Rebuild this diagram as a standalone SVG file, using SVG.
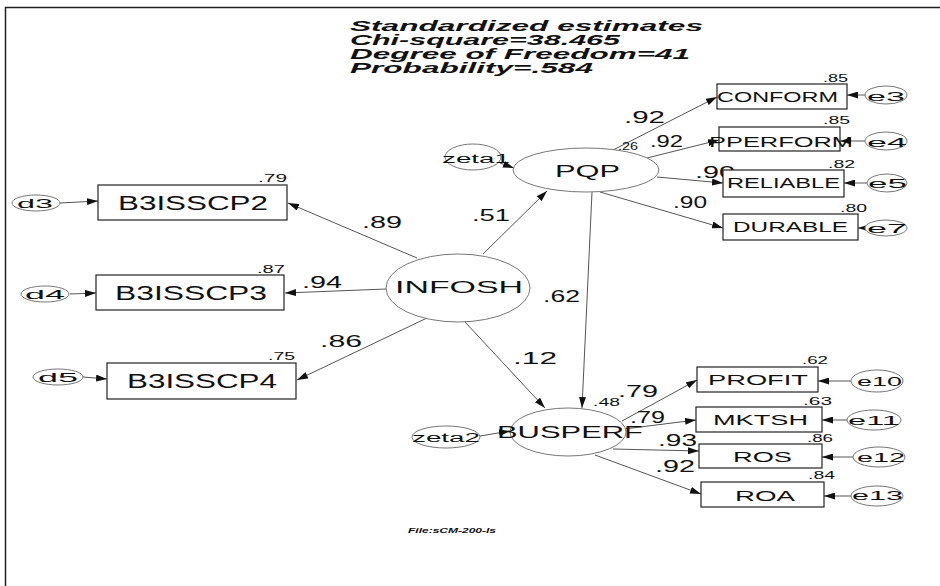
<svg xmlns="http://www.w3.org/2000/svg" width="940" height="586" viewBox="0 0 940 586">
<defs>
<marker id="ah" markerWidth="11" markerHeight="7" refX="11" refY="3.5" orient="auto" markerUnits="userSpaceOnUse"><path d="M0,0 L11,3.5 L0,7 z" fill="#111"/></marker>
<style>
.t{font-family:"Liberation Sans",Arial,sans-serif;fill:#111}
.ttl{font-family:"Liberation Sans",Arial,sans-serif;font-weight:bold;font-style:italic;font-size:14px;fill:#111}
.box{fill:#fff;stroke:#222;stroke-width:1.2}
.ell{fill:#fff;stroke:#777;stroke-width:1}
.c line{stroke:#555;stroke-width:1;marker-end:url(#ah)}
.sm{font-size:10px}
.pc{font-size:16px}
.nd{font-size:14px}
.big{font-size:20px}
.lat{font-size:17px}
.er{font-size:12px}
</style>
</defs>
<rect width="940" height="586" fill="#fff"/>
<path d="M5.5,586 V7.5 H940" fill="none" stroke="#222" stroke-width="1.5"/>
<g id="title">
<text class="ttl" x="350" y="31" textLength="353" lengthAdjust="spacingAndGlyphs">Standardized estimates</text>
<text class="ttl" x="350" y="45" textLength="270" lengthAdjust="spacingAndGlyphs">Chi-square=38.465</text>
<text class="ttl" x="350" y="59" textLength="340" lengthAdjust="spacingAndGlyphs">Degree of Freedom=41</text>
<text class="ttl" x="350" y="73" textLength="243" lengthAdjust="spacingAndGlyphs">Probability=.584</text>
</g>
<g id="connectors" class="c">
<line x1="417" y1="258" x2="288" y2="203"/>
<line x1="386" y1="289" x2="285" y2="293"/>
<line x1="427" y1="318" x2="297" y2="380"/>
<line x1="483" y1="254" x2="547" y2="191"/>
<line x1="465" y1="322" x2="545" y2="408"/>
<line x1="592" y1="192" x2="582" y2="408"/>
<line x1="500" y1="163" x2="514" y2="168"/>
<line x1="613" y1="150" x2="717" y2="97"/>
<line x1="647" y1="158" x2="719" y2="140"/>
<line x1="657" y1="177" x2="723" y2="183"/>
<line x1="600" y1="192" x2="723" y2="228"/>
<line x1="865" y1="95" x2="847" y2="95"/>
<line x1="865" y1="141" x2="840" y2="141"/>
<line x1="867" y1="183" x2="844" y2="183"/>
<line x1="865" y1="228" x2="858" y2="228"/>
<line x1="60" y1="203" x2="98" y2="201"/>
<line x1="70" y1="294" x2="96" y2="293"/>
<line x1="83" y1="377" x2="107" y2="379"/>
<line x1="480" y1="436" x2="510" y2="431"/>
<line x1="622" y1="421" x2="697" y2="380"/>
<line x1="624" y1="429" x2="696" y2="420"/>
<line x1="613" y1="449" x2="699" y2="451"/>
<line x1="595" y1="455" x2="701" y2="494"/>
<line x1="851" y1="381" x2="818" y2="381"/>
<line x1="847" y1="420" x2="822" y2="420"/>
<line x1="853" y1="457" x2="822" y2="457"/>
<line x1="851" y1="496" x2="824" y2="496"/>
</g>
<g id="coefs" class="t pc">
<text x="624" y="123" textLength="41" lengthAdjust="spacingAndGlyphs">.92</text>
<text x="650" y="147" textLength="33" lengthAdjust="spacingAndGlyphs">.92</text>
<text x="695" y="178" textLength="40" lengthAdjust="spacingAndGlyphs">.90</text>
<text x="673" y="208" textLength="34" lengthAdjust="spacingAndGlyphs">.90</text>
<text x="362" y="228" textLength="40" lengthAdjust="spacingAndGlyphs">.89</text>
<text x="302" y="288" textLength="40" lengthAdjust="spacingAndGlyphs">.94</text>
<text x="320" y="347" textLength="42" lengthAdjust="spacingAndGlyphs">.86</text>
<text x="472" y="221" textLength="38" lengthAdjust="spacingAndGlyphs">.51</text>
<text x="513" y="364" textLength="44" lengthAdjust="spacingAndGlyphs">.12</text>
<text x="543" y="302" textLength="37" lengthAdjust="spacingAndGlyphs">.62</text>
<text x="618" y="397" textLength="40" lengthAdjust="spacingAndGlyphs">.79</text>
<text x="630" y="423" textLength="35" lengthAdjust="spacingAndGlyphs">.79</text>
<text x="658" y="446" textLength="39" lengthAdjust="spacingAndGlyphs">.93</text>
<text x="655" y="472" textLength="40" lengthAdjust="spacingAndGlyphs">.92</text>
</g>
<g id="zeta1"><ellipse class="ell" cx="473" cy="157" rx="28" ry="13"/><text class="t er" x="442" y="163" textLength="68" lengthAdjust="spacingAndGlyphs">zeta1</text></g>
<g id="PQP"><ellipse class="ell" cx="586" cy="170" rx="73" ry="22"/><text class="t lat" x="555" y="177" textLength="65" lengthAdjust="spacingAndGlyphs">PQP</text><text class="t sm" x="618" y="150" textLength="20" lengthAdjust="spacingAndGlyphs">.26</text></g>
<g id="INFOSH"><ellipse class="ell" cx="458" cy="288" rx="72" ry="34"/><text class="t lat" x="395" y="293" textLength="128" lengthAdjust="spacingAndGlyphs">INFOSH</text></g>
<g id="BUSPERF"><ellipse class="ell" cx="568" cy="432" rx="58" ry="24"/><text class="t lat" x="497" y="438" textLength="146" lengthAdjust="spacingAndGlyphs">BUSPERF</text><text class="t sm" x="593" y="406" textLength="27" lengthAdjust="spacingAndGlyphs">.48</text></g>
<g id="zeta2"><ellipse class="ell" cx="446" cy="437" rx="34" ry="11"/><text class="t er" x="412" y="442" textLength="68" lengthAdjust="spacingAndGlyphs">zeta2</text></g>
<g id="CONFORM"><rect class="box" x="717" y="84" width="130" height="25"/><text class="t nd" x="717" y="102" textLength="121" lengthAdjust="spacingAndGlyphs">CONFORM</text><text class="t sm" x="823" y="82" textLength="25" lengthAdjust="spacingAndGlyphs">.85</text></g>
<g id="PPERFORM"><rect class="box" x="719" y="127" width="121" height="24"/><text class="t nd" x="709" y="147" textLength="144" lengthAdjust="spacingAndGlyphs">PPERFORM</text><text class="t sm" x="823" y="124" textLength="27" lengthAdjust="spacingAndGlyphs">.85</text></g>
<g id="RELIABLE"><rect class="box" x="723" y="170" width="121" height="27"/><text class="t nd" x="727" y="188" textLength="113" lengthAdjust="spacingAndGlyphs">RELIABLE</text><text class="t sm" x="828" y="168" textLength="27" lengthAdjust="spacingAndGlyphs">.82</text></g>
<g id="DURABLE"><rect class="box" x="723" y="214" width="135" height="26"/><text class="t nd" x="733" y="232" textLength="115" lengthAdjust="spacingAndGlyphs">DURABLE</text><text class="t sm" x="840" y="212" textLength="27" lengthAdjust="spacingAndGlyphs">.80</text></g>
<g id="e3"><ellipse class="ell" cx="886" cy="95" rx="21" ry="9"/><text class="t er" x="867" y="101" textLength="38" lengthAdjust="spacingAndGlyphs">e3</text></g>
<g id="e4"><ellipse class="ell" cx="886" cy="141" rx="21" ry="9"/><text class="t er" x="867" y="147" textLength="40" lengthAdjust="spacingAndGlyphs">e4</text></g>
<g id="e5"><ellipse class="ell" cx="887" cy="183" rx="20" ry="9"/><text class="t er" x="868" y="188" textLength="39" lengthAdjust="spacingAndGlyphs">e5</text></g>
<g id="e7"><ellipse class="ell" cx="886" cy="228" rx="21" ry="8"/><text class="t er" x="867" y="233" textLength="40" lengthAdjust="spacingAndGlyphs">e7</text></g>
<g id="B3ISSCP2"><rect class="box" x="98" y="185" width="189" height="35"/><text class="t big" x="118" y="210" textLength="150" lengthAdjust="spacingAndGlyphs">B3ISSCP2</text><text class="t sm" x="258" y="182" textLength="29" lengthAdjust="spacingAndGlyphs">.79</text></g>
<g id="B3ISSCP3"><rect class="box" x="96" y="275" width="188" height="35"/><text class="t big" x="115" y="300" textLength="152" lengthAdjust="spacingAndGlyphs">B3ISSCP3</text><text class="t sm" x="257" y="273" textLength="28" lengthAdjust="spacingAndGlyphs">.87</text></g>
<g id="B3ISSCP4"><rect class="box" x="107" y="363" width="189" height="36"/><text class="t big" x="127" y="388" textLength="150" lengthAdjust="spacingAndGlyphs">B3ISSCP4</text><text class="t sm" x="268" y="360" textLength="27" lengthAdjust="spacingAndGlyphs">.75</text></g>
<g id="d3"><ellipse class="ell" cx="36" cy="203" rx="24" ry="8"/><text class="t er" x="17" y="208" textLength="36" lengthAdjust="spacingAndGlyphs">d3</text></g>
<g id="d4"><ellipse class="ell" cx="45" cy="294" rx="24" ry="8"/><text class="t er" x="25" y="299" textLength="40" lengthAdjust="spacingAndGlyphs">d4</text></g>
<g id="d5"><ellipse class="ell" cx="58" cy="377" rx="25" ry="8"/><text class="t er" x="38" y="382" textLength="40" lengthAdjust="spacingAndGlyphs">d5</text></g>
<g id="PROFIT"><rect class="box" x="697" y="367" width="121" height="25"/><text class="t nd" x="708" y="385" textLength="100" lengthAdjust="spacingAndGlyphs">PROFIT</text><text class="t sm" x="802" y="364" textLength="26" lengthAdjust="spacingAndGlyphs">.62</text></g>
<g id="MKTSH"><rect class="box" x="696" y="407" width="126" height="25"/><text class="t nd" x="713" y="425" textLength="95" lengthAdjust="spacingAndGlyphs">MKTSH</text><text class="t sm" x="803" y="405" textLength="29" lengthAdjust="spacingAndGlyphs">.63</text></g>
<g id="ROS"><rect class="box" x="699" y="444" width="123" height="24"/><text class="t nd" x="733" y="462" textLength="59" lengthAdjust="spacingAndGlyphs">ROS</text><text class="t sm" x="807" y="442" textLength="26" lengthAdjust="spacingAndGlyphs">.86</text></g>
<g id="ROA"><rect class="box" x="701" y="482" width="123" height="25"/><text class="t nd" x="735" y="501" textLength="60" lengthAdjust="spacingAndGlyphs">ROA</text><text class="t sm" x="808" y="479" textLength="27" lengthAdjust="spacingAndGlyphs">.84</text></g>
<g id="e10"><ellipse class="ell" cx="877" cy="381" rx="26" ry="11"/><text class="t er" x="857" y="386" textLength="45" lengthAdjust="spacingAndGlyphs">e10</text></g>
<g id="e11"><ellipse class="ell" cx="874" cy="420" rx="27" ry="10"/><text class="t er" x="848" y="425" textLength="52" lengthAdjust="spacingAndGlyphs">e11</text></g>
<g id="e12"><ellipse class="ell" cx="879" cy="457" rx="26" ry="10"/><text class="t er" x="857" y="462" textLength="48" lengthAdjust="spacingAndGlyphs">e12</text></g>
<g id="e13"><ellipse class="ell" cx="877" cy="496" rx="26" ry="10"/><text class="t er" x="852" y="500" textLength="51" lengthAdjust="spacingAndGlyphs">e13</text></g>
<g id="file"><text class="ttl" style="font-size:8px" x="408" y="533" textLength="88" lengthAdjust="spacingAndGlyphs">File:sCM-200-ls</text></g>
</svg>
